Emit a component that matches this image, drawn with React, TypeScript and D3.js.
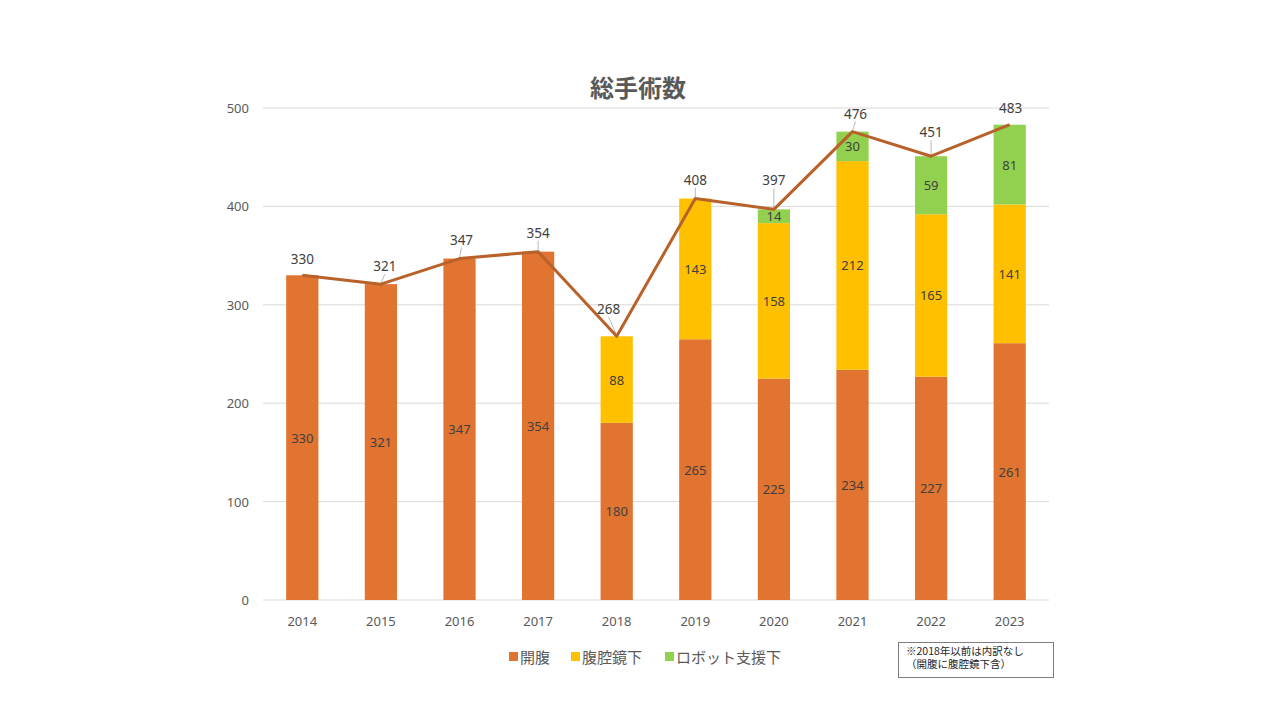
import React from "react";
import * as d3 from "d3";

const years = ["2014", "2015", "2016", "2017", "2018", "2019", "2020", "2021", "2022", "2023"];
const openVals = [330, 321, 347, 354, 180, 265, 225, 234, 227, 261];
const laparoVals = [0, 0, 0, 0, 88, 143, 158, 212, 165, 141];
const robotVals = [0, 0, 0, 0, 0, 0, 14, 30, 59, 81];
const totals = [330, 321, 347, 354, 268, 408, 397, 476, 451, 483];
const yTicks = [0, 100, 200, 300, 400, 500];
const seriesNames = ["開腹", "腹腔鏡下", "ロボット支援下"];

// label placement (styling only)
const labelDx = [0, 4, 2, 0, -8, 0, 0, 3, 0, 1];
const labelDy = [11, 13, 14, 14, 22, 14, 24, 13, 19, 12];

const colors = ["#E07430", "#FFC000", "#92D050"];
const lineColor = "#B8612A";

export default function App() {
  const W = 1280, H = 720;
  const left = 263, right = 1049, top = 108, bottom = 600;
  const x = d3.scaleBand<string>().domain(years).range([left, right]).paddingInner(0.59).paddingOuter(0.295);
  const y = d3.scaleLinear().domain([0, 500]).range([bottom, top]);
  const cx = (yr: string) => (x(yr) as number) + x.bandwidth() / 2;

  const rows = years.map((yr, i) => ({ yr, vals: [openVals[i], laparoVals[i], robotVals[i]] }));
  const line = d3.line<number>().x((_, i) => cx(years[i])).y((d) => y(d));
  const font = "'Noto Sans', 'Noto Sans CJK JP', sans-serif";
  const cjk = "'Noto Sans CJK JP', sans-serif";

  const legendItems = [
    { sx: 509, tx: 520 },
    { sx: 571, tx: 582 },
    { sx: 665, tx: 676 },
  ];

  return (
    <svg width={W} height={H} style={{ position: "absolute", left: 0, top: 0, background: "#fff" }} fontFamily={font}>
      <rect x={0} y={0} width={W} height={H} fill="#fff" />
      <text x={638} y={97} textAnchor="middle" fontSize={24} fontWeight="bold" fill="#595959" fontFamily={cjk}>総手術数</text>
      {yTicks.map((t) => (
        <g key={t}>
          <line x1={left} x2={right} y1={y(t)} y2={y(t)} stroke="#D9D9D9" strokeWidth={1} />
          <text x={249} y={y(t) + 5} textAnchor="end" fontSize={13} fill="#595959">{t}</text>
        </g>
      ))}
      {rows.map((r) => {
        let acc = 0;
        return (
          <g key={r.yr}>
            {r.vals.map((v, k) => {
              const y0 = acc;
              acc += v;
              if (v === 0) return null;
              return (
                <g key={k}>
                  <rect x={x(r.yr)} width={x.bandwidth()} y={y(acc)} height={y(y0) - y(acc)} fill={colors[k]} />
                  <text x={cx(r.yr)} y={(y(acc) + y(y0)) / 2 + 5} textAnchor="middle" fontSize={13} fill="#404040">{v}</text>
                </g>
              );
            })}
            <text x={cx(r.yr)} y={y(0) + 26} textAnchor="middle" fontSize={13} fill="#595959">{r.yr}</text>
          </g>
        );
      })}
      {totals.map((t, i) =>
        labelDy[i] > 12 ? (
          <line key={"l" + i} x1={cx(years[i])} y1={y(t) - 1} x2={cx(years[i]) + labelDx[i]} y2={y(t) - labelDy[i] + 3}
            stroke="#A6A6A6" strokeWidth={0.8} />
        ) : null
      )}
      <path d={line(totals) || ""} fill="none" stroke={lineColor} strokeWidth={3} strokeLinejoin="round" />
      {totals.map((t, i) => (
        <text key={"t" + i} x={cx(years[i]) + labelDx[i]} y={y(t) - labelDy[i]} textAnchor="middle" fontSize={13.5} fill="#404040">{t}</text>
      ))}
      {seriesNames.map((n, k) => (
        <g key={n}>
          <rect x={legendItems[k].sx} y={652} width={9} height={9} fill={colors[k]} />
          <text x={legendItems[k].tx} y={663} fontSize={15} fill="#595959" fontFamily={cjk}>{n}</text>
        </g>
      ))}
      <rect x={898.5} y={642.5} width={155} height={35} fill="none" stroke="#7F7F7F" strokeWidth={1} />
      <text x={906} y={655} fontSize={10.5} fill="#262626" fontFamily={cjk}>※2018年以前は内訳なし</text>
      <text x={906} y={668} fontSize={10.5} fill="#262626" fontFamily={cjk}>（開腹に腹腔鏡下含）</text>
    </svg>
  );
}
